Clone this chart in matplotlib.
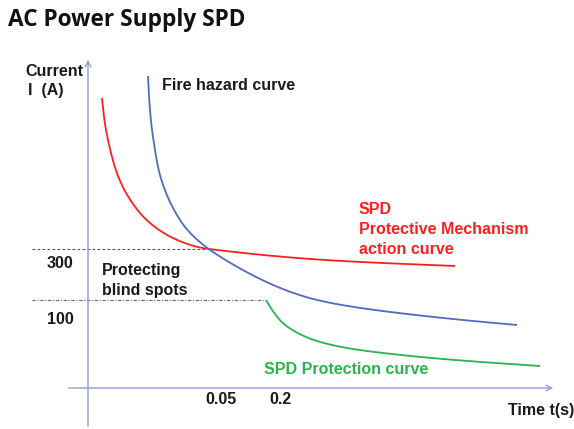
import matplotlib
matplotlib.use("Agg")
import matplotlib.pyplot as plt
import numpy as np

# Schematic data: t = horizontal distance from the I-axis, i = height above the t-axis
red_t = [14, 16, 19, 27, 36, 44, 57, 80, 107, 120, 172, 232, 292, 367]
red_i = [290, 270, 251, 218, 198, 185, 168, 151, 141, 139, 133, 128, 125, 122]

blue_t = [60, 61, 63, 65, 70, 76, 82, 95, 108, 120, 145, 179, 212, 245, 292, 362, 429]
blue_i = [312, 290, 265, 251, 218, 200, 185, 162, 149, 139, 123, 105, 92, 84, 77, 69, 63]

green_t = [178, 181, 184, 192, 202, 217, 234, 262, 302, 362, 452]
green_i = [88, 83, 78, 67, 59, 51, 45, 39, 34, 28, 22]

level_labels = ["300", "100"]
level_i = [139, 88]
level_t_end = [117, 178]

time_labels = ["0.05", "0.2"]
time_t = [133, 192]

fig = plt.figure(figsize=(5.74, 4.29), dpi=100)
ax = fig.add_axes([0, 0, 1, 1])
ax.set_xlim(-88, 486)
ax.set_ylim(-41, 388)
ax.axis("off")

axis_col = "#8a9fd3"
txt = "#1a1a1a"
font = ["Liberation Sans", "DejaVu Sans"]
fs = 11.5

# axes with arrows
ax.annotate("", xy=(468, 0), xytext=(-22, 0),
            arrowprops=dict(arrowstyle="->", color=axis_col, lw=1.0, mutation_scale=10))
ax.annotate("", xy=(0, 331), xytext=(0, -41),
            arrowprops=dict(arrowstyle="->", color=axis_col, lw=1.0, mutation_scale=10))

# reference lines
ax.plot([-56, level_t_end[0]], [level_i[0]] * 2, color="#555555", lw=0.8, ls=(0, (2.5, 2)))
ax.plot([-56, level_t_end[1]], [level_i[1]] * 2, color="#666666", lw=0.8, ls=(0, (3, 1.5, 1, 1.5)))


def bspline(x, y, per=25):
    """Clamped uniform cubic B-spline using the read points as control points."""
    P = np.column_stack([x, y]).astype(float)
    P = np.vstack([P[0], P[0], P, P[-1], P[-1]])
    out = []
    M = np.array([[-1, 3, -3, 1], [3, -6, 3, 0], [-3, 0, 3, 0], [1, 4, 1, 0]]) / 6.0
    for k in range(len(P) - 3):
        G = P[k:k + 4]
        for u in np.linspace(0, 1, per, endpoint=False):
            U = np.array([u**3, u**2, u, 1])
            out.append(U @ M @ G)
    out.append(P[-1])
    out = np.array(out)
    return out[:, 0], out[:, 1]


ax.plot(*bspline(red_t, red_i), color="#ff1f1f", lw=1.3, solid_capstyle="butt")
ax.plot(*bspline(blue_t, blue_i), color="#4f6cc0", lw=1.3, solid_capstyle="butt")
ax.plot(*bspline(green_t, green_i), color="#2bb44e", lw=1.3, solid_capstyle="butt")

# tick-like labels
for lab, yv, off in zip(level_labels, level_i, [-14, -20]):
    ax.text(-28, yv + off, lab, ha="center", va="center",
            fontsize=fs, fontweight="bold", color=txt, family=font)
for lab, tv in zip(time_labels, time_t):
    ax.text(tv, -12, lab, ha="center", va="center", fontsize=fs, fontweight="bold",
            color=txt, family=font)

kw = dict(ha="left", va="center", fontsize=fs, fontweight="bold", family=font)
ax.text(486, -22, "Time t(s)", color=txt, **{**kw, "ha": "right"})
ax.text(-63, 316, "Current", color=txt, **kw)
ax.text(-60, 297, "I\u00a0 (A)", color=txt, **kw)
ax.text(74, 303, "Fire hazard curve", color=txt, **kw)
ax.text(14, 117, "Protecting", color=txt, **kw)
ax.text(14, 98, "blind spots", color=txt, **kw)
ax.text(271, 179, "SPD", color="#ff1f1f", **kw)
ax.text(271, 159, "Protective Mechanism", color="#ff1f1f", **kw)
ax.text(271, 139, "action curve", color="#ff1f1f", **kw)
ax.text(176, 19, "SPD Protection curve", color="#2bb44e", **kw)

fig.text(8 / 574, 1 - 20 / 429, "AC Power Supply SPD", ha="left", va="center",
         fontsize=16.3, fontweight="bold", color="#111111", family=["Open Sans", "DejaVu Sans"])

fig.savefig("out.png", dpi=100)
